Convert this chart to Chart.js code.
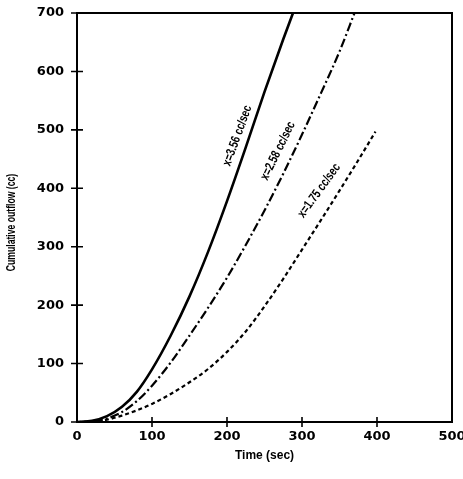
<!DOCTYPE html>
<html><head><meta charset="utf-8">
<script src="https://cdn.jsdelivr.net/npm/chart.js@4/dist/chart.umd.min.js"></script>
<style>html,body{margin:0;padding:0;background:#fff}#wrap{width:463px;height:479px}</style>
</head><body><div id="wrap"><canvas id="c" width="463" height="479"></canvas></div>
<script>
// Data
const xTicks = [0, 100, 200, 300, 400, 500];
const yTicks = [0, 100, 200, 300, 400, 500, 600, 700];

const timeA = [0, 20, 40, 60, 80, 100, 125, 150, 175, 200, 225, 250, 275, 288];
const flowA = [0, 2, 10, 26, 52, 90, 148, 215, 292, 378, 470, 565, 655, 700];

const timeB = [0, 20, 40, 60, 80, 100, 125, 150, 175, 200, 225, 250, 275, 300, 325, 350, 370];
const flowB = [0, 1, 6, 17, 36, 62, 102, 148, 196, 247, 303, 362, 425, 492, 562, 634, 700];

const timeC = [0, 20, 40, 60, 80, 100, 125, 150, 175, 200, 225, 250, 275, 300, 325, 350, 375, 398];
const flowC = [0, 1, 4, 11, 20, 31, 48, 68, 91, 120, 155, 198, 245, 295, 345, 396, 448, 497];

const curveLabels = ["x=3.56 cc/sec", "x=2.58 cc/sec", "x=1.75 cc/sec"];
const labelX = [214, 268, 323];
const labelY = [490, 464, 396];
const labelAngle = [-70, -64, -54];

const yTitle = "Cumulative outflow (cc)";

const pts = (xs, ys) => xs.map((x, i) => ({x: x, y: ys[i]}));

const FONT = "'Liberation Sans', Arial, sans-serif";
const TICKFONT = "'DejaVu Sans', 'Liberation Sans', sans-serif";

const framePlugin = {
  id: 'frame',
  afterDatasetsDraw(chart) {
    const {ctx, chartArea: a, scales: {x, y}} = chart;
    ctx.save();
    ctx.strokeStyle = '#000';
    ctx.lineWidth = 2;
    ctx.strokeRect(a.left, a.top, a.right - a.left, a.bottom - a.top);
    // crossing tick marks
    ctx.lineWidth = 1.6;
    ctx.beginPath();
    xTicks.forEach(v => {
      if (v === 0 || v === 500) return;
      const px = x.getPixelForValue(v);
      ctx.moveTo(px, a.bottom - 5); ctx.lineTo(px, a.bottom + 5);
    });
    yTicks.forEach(v => {
      if (v === 0 || v === 700) return;
      const py = y.getPixelForValue(v);
      ctx.moveTo(a.left - 6, py); ctx.lineTo(a.left + 6, py);
    });
    ctx.moveTo(a.left - 6, a.top); ctx.lineTo(a.left, a.top);
    ctx.moveTo(a.left - 6, a.bottom); ctx.lineTo(a.left, a.bottom);
    ctx.stroke();
    // curve labels (condensed bold)
    ctx.fillStyle = '#000';
    ctx.font = "bold 13px " + FONT;
    ctx.textAlign = 'center';
    ctx.textBaseline = 'middle';
    curveLabels.forEach((t, i) => {
      ctx.save();
      ctx.translate(x.getPixelForValue(labelX[i]), y.getPixelForValue(labelY[i]));
      ctx.rotate(labelAngle[i] * Math.PI / 180);
      ctx.scale(0.76, 1);
      ctx.fillText(t, 0, 0);
      ctx.restore();
    });
    // y-axis title (condensed bold)
    ctx.save();
    ctx.translate(12, (a.top + a.bottom) / 2 + 5);
    ctx.rotate(-Math.PI / 2);
    ctx.scale(0.72, 1);
    ctx.font = "bold 12px " + FONT;
    ctx.fillText(yTitle, 0, 0);
    ctx.restore();
    ctx.restore();
  }
};

new Chart(document.getElementById('c'), {
  type: 'line',
  data: {
    datasets: [
      {data: pts(timeA, flowA), borderColor: '#000', borderWidth: 2.6, pointRadius: 0, cubicInterpolationMode: 'monotone', fill: false},
      {data: pts(timeB, flowB), borderColor: '#000', borderWidth: 2.2, borderDash: [9, 3, 2, 3], pointRadius: 0, cubicInterpolationMode: 'monotone', fill: false},
      {data: pts(timeC, flowC), borderColor: '#000', borderWidth: 2.2, borderDash: [4, 3], pointRadius: 0, cubicInterpolationMode: 'monotone', fill: false}
    ]
  },
  options: {
    responsive: false,
    animation: false,
    devicePixelRatio: 1,
    layout: {padding: {left: 0, right: 11, top: 13, bottom: 0}},
    plugins: {legend: {display: false}, tooltip: {enabled: false}},
    scales: {
      x: {
        type: 'linear', min: 0, max: 500,
        afterBuildTicks: s => { s.ticks = xTicks.map(v => ({value: v})); },
        afterFit: s => { s.height = 57; s.paddingLeft = 0; s.paddingRight = 0; },
        grid: {display: false, drawTicks: false},
        border: {display: false},
        ticks: {color: '#000', font: {family: TICKFONT, size: 13, weight: 'bold'}, padding: 7, maxRotation: 0},
        title: {display: true, text: 'Time (sec)', color: '#000', font: {family: FONT, size: 12, weight: 'bold'}, padding: {top: 0, bottom: 16}}
      },
      y: {
        type: 'linear', min: 0, max: 700,
        afterBuildTicks: s => { s.ticks = yTicks.map(v => ({value: v})); },
        afterFit: s => { s.width = 77; s.paddingTop = 0; s.paddingBottom = 0; },
        grid: {display: false, drawTicks: false},
        border: {display: false},
        ticks: {color: '#000', font: {family: TICKFONT, size: 13, weight: 'bold'}, padding: 13}
      }
    }
  },
  plugins: [framePlugin]
});
</script></body></html>
